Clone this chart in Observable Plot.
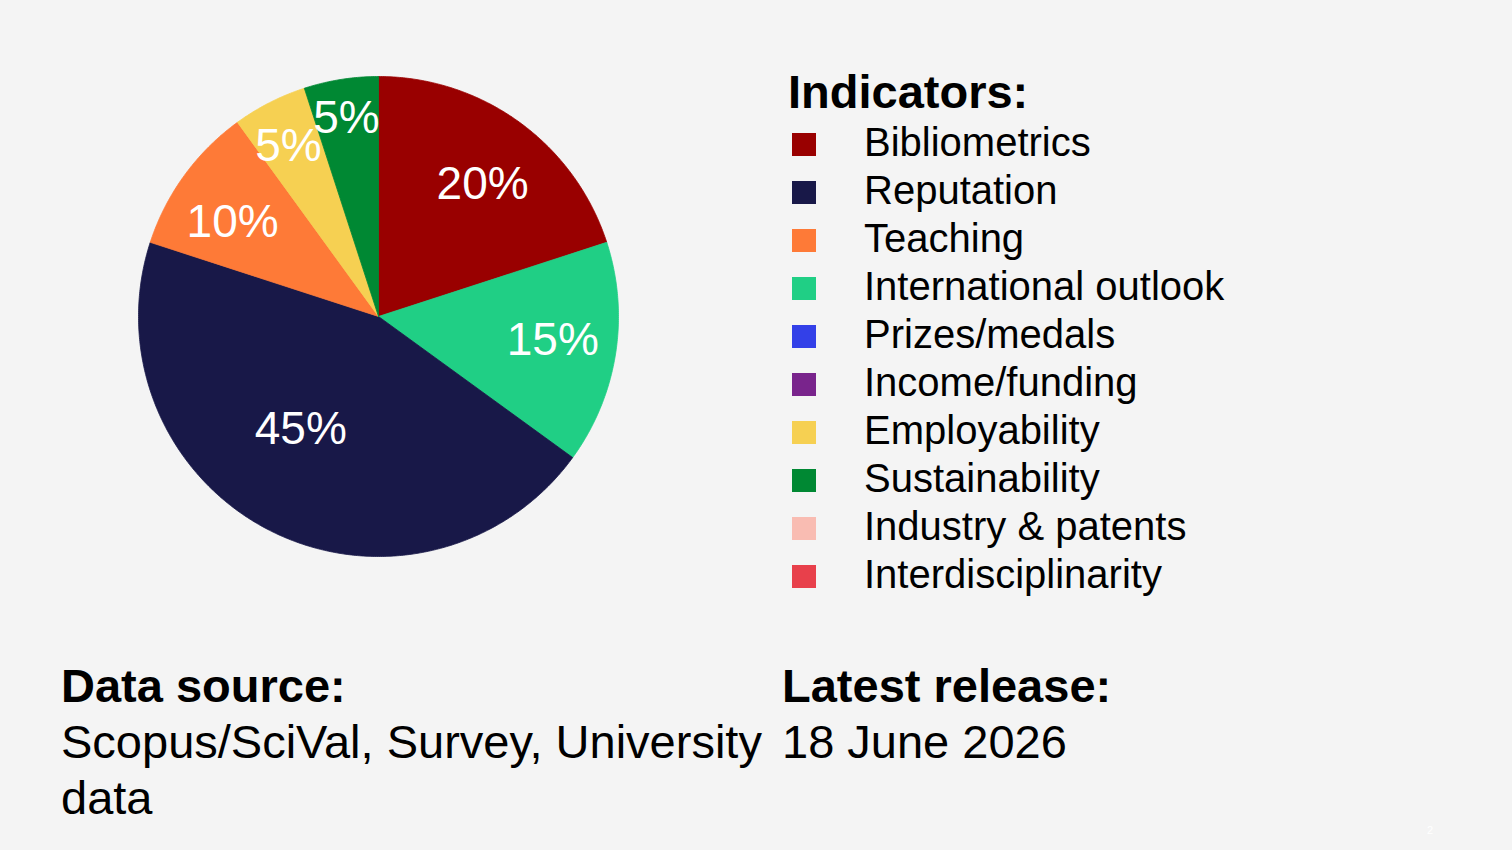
<!DOCTYPE html>
<html>
<head>
<meta charset="utf-8">
<script src="https://cdn.jsdelivr.net/npm/d3@7"></script>
<script src="https://cdn.jsdelivr.net/npm/@observablehq/plot@0.6"></script>
<style>
html, body { margin: 0; padding: 0; background: #f4f4f4; }
#page { position: relative; width: 1512px; height: 850px; background: #f4f4f4; font-family: "Liberation Sans", Arial, sans-serif; color: #000; overflow: hidden; }
#chart { position: absolute; left: 0; top: 0; }
#legend { position: absolute; left: 789px; top: 68px; }
.lg-title { font-weight: bold; font-size: 47px; line-height: 48px; height: 50px; white-space: nowrap; margin-left: -1px; }
.lg-row { position: relative; height: 48px; font-size: 40px; line-height: 48px; }
.lg-sw { position: absolute; left: 3px; top: 15px; width: 24px; height: 23px; }
.lg-label { position: absolute; left: 75px; top: 0; white-space: nowrap; }
.block { position: absolute; top: 658px; font-size: 47px; line-height: 56px; }
.block b { display: block; white-space: nowrap; }
#src { left: 61px; width: 730px; }
#rel { left: 782px; white-space: nowrap; }
#pg { position: absolute; left: 1427px; top: 824px; font-size: 11px; line-height: 12px; color: #fff; }
</style>
</head>
<body>
<div id="page">
  <div id="chart"></div>
  <div id="legend"><div class="lg-title">Indicators:</div></div>
  <div class="block" id="src"><b>Data source:</b>Scopus/SciVal, Survey, University data</div>
  <div class="block" id="rel"><b>Latest release:</b>18 June 2026</div>
  <div id="pg">2</div>
</div>
<script>
// ---- data ----
const categories = [
  "Bibliometrics", "Reputation", "Teaching", "International outlook", "Prizes/medals",
  "Income/funding", "Employability", "Sustainability", "Industry & patents", "Interdisciplinarity"
];
const colors = [
  "#990000", "#181848", "#fe7a37", "#20cf85", "#3340e8",
  "#79248c", "#f6d052", "#008833", "#f9bcb2", "#e8404b"
];
const pieCategories = ["Bibliometrics", "International outlook", "Reputation", "Teaching", "Employability", "Sustainability"];
const pieShares = [20, 15, 45, 10, 5, 5];
const pieLabels = ["20%", "15%", "45%", "10%", "5%", "5%"];

// ---- layout (label placement: radius fraction, angular nudge in degrees) ----
const labelLayout = {
  "Bibliometrics": [0.70, 2.3],
  "International outlook": [0.733, -1.2],
  "Reputation": [0.569, 7.7],
  "Teaching": [0.723, -3.2],
  "Employability": [0.804, -0.8],
  "Sustainability": [0.836, -0.2]
};
const shadowed = ["Employability"];
const FONT = '"Liberation Sans", Arial, sans-serif';

const arcs = d3.pie().sort(null).value(d => d.share)(
  pieCategories.map((c, i) => ({category: c, share: pieShares[i], label: pieLabels[i]}))
);

// polygon outline of each slice (center + arc samples)
const outline = [];
for (const a of arcs) {
  const c = a.data.category;
  const steps = Math.max(2, Math.ceil((a.endAngle - a.startAngle) / (Math.PI / 360)));
  outline.push({category: c, x: 0, y: 0});
  for (let k = 0; k <= steps; k++) {
    const t = a.startAngle + (a.endAngle - a.startAngle) * k / steps;
    outline.push({category: c, x: Math.sin(t), y: Math.cos(t)});
  }
  outline.push({category: c, x: 0, y: 0});
}

const labels = arcs.map(a => {
  const [f, nudge] = labelLayout[a.data.category];
  const t = (a.startAngle + a.endAngle) / 2 + nudge * Math.PI / 180;
  return {category: a.data.category, label: a.data.label, x: f * Math.sin(t), y: f * Math.cos(t)};
});

const plot = Plot.plot({
  width: 760,
  height: 640,
  margin: 0,
  style: {background: "transparent", fontFamily: FONT},
  x: {domain: [-1, 1], range: [138, 618], axis: null},
  y: {domain: [-1, 1], range: [556, 76], axis: null},
  color: {domain: categories, range: colors},
  marks: [
    Plot.line(outline, {x: "x", y: "y", z: "category", fill: "category", stroke: "category", strokeWidth: 0.8, curve: "linear"}),
    Plot.text(labels.filter(d => shadowed.includes(d.category)), {
      x: "x", y: "y", text: "label", fill: "white", fontSize: 46, fontFamily: FONT,
      lineAnchor: "middle", ariaLabel: "shadow-labels"
    }),
    Plot.text(labels.filter(d => !shadowed.includes(d.category)), {
      x: "x", y: "y", text: "label", fill: "white", fontSize: 46, fontFamily: FONT,
      lineAnchor: "middle"
    })
  ]
});
const sh = plot.querySelector('[aria-label="shadow-labels"]');
if (sh) sh.style.filter = "drop-shadow(2px 2px 1.5px rgba(70,45,0,0.9))";
document.getElementById("chart").appendChild(plot);

// legend built from the same color scale
const colorScale = plot.scale("color");
const legend = document.getElementById("legend");
for (const c of categories) {
  const row = document.createElement("div");
  row.className = "lg-row";
  const sw = document.createElement("div");
  sw.className = "lg-sw";
  sw.style.background = colorScale.apply(c);
  const lab = document.createElement("div");
  lab.className = "lg-label";
  lab.textContent = c;
  row.appendChild(sw);
  row.appendChild(lab);
  legend.appendChild(row);
}
</script>
</body>
</html>
